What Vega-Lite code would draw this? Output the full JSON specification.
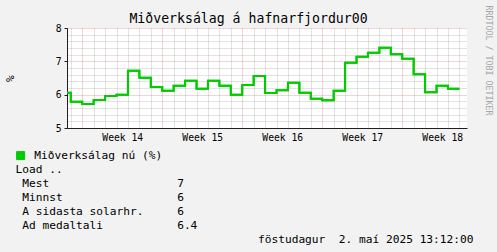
{
  "$schema": "https://vega.github.io/schema/vega-lite/v6.json",
  "width": 400,
  "height": 100,
  "autosize": "none",
  "padding": {"left": 67, "top": 28, "right": 30, "bottom": 124},
  "background": "#f2f2f2",
  "view": {"fill": "#ffffff", "stroke": null},
  "config": {"font": "DejaVu Sans Mono"},
  "title": {
    "text": "Miðverksálag á hafnarfjordur00",
    "font": "DejaVu Sans Mono",
    "fontSize": 13.2,
    "fontWeight": "normal",
    "color": "#000000",
    "anchor": "middle",
    "frame": "group",
    "dx": -18.5,
    "baseline": "alphabetic",
    "offset": -31.5
  },
  "data": {
    "values": [
      {"t": "2025-03-29T00:00:00Z", "v": 6.06},
      {"t": "2025-03-30T00:00:00Z", "v": 5.79},
      {"t": "2025-03-31T00:00:00Z", "v": 5.72},
      {"t": "2025-04-01T00:00:00Z", "v": 5.84},
      {"t": "2025-04-02T00:00:00Z", "v": 5.96},
      {"t": "2025-04-03T00:00:00Z", "v": 6.00},
      {"t": "2025-04-04T00:00:00Z", "v": 6.72},
      {"t": "2025-04-05T00:00:00Z", "v": 6.51},
      {"t": "2025-04-06T00:00:00Z", "v": 6.23},
      {"t": "2025-04-07T00:00:00Z", "v": 6.12},
      {"t": "2025-04-08T00:00:00Z", "v": 6.27},
      {"t": "2025-04-09T00:00:00Z", "v": 6.42},
      {"t": "2025-04-10T00:00:00Z", "v": 6.18},
      {"t": "2025-04-11T00:00:00Z", "v": 6.42},
      {"t": "2025-04-12T00:00:00Z", "v": 6.27},
      {"t": "2025-04-13T00:00:00Z", "v": 6.00},
      {"t": "2025-04-14T00:00:00Z", "v": 6.29},
      {"t": "2025-04-15T00:00:00Z", "v": 6.56},
      {"t": "2025-04-16T00:00:00Z", "v": 6.05},
      {"t": "2025-04-17T00:00:00Z", "v": 6.13},
      {"t": "2025-04-18T00:00:00Z", "v": 6.36},
      {"t": "2025-04-19T00:00:00Z", "v": 6.06},
      {"t": "2025-04-20T00:00:00Z", "v": 5.88},
      {"t": "2025-04-21T00:00:00Z", "v": 5.83},
      {"t": "2025-04-22T00:00:00Z", "v": 6.12},
      {"t": "2025-04-23T00:00:00Z", "v": 6.96},
      {"t": "2025-04-24T00:00:00Z", "v": 7.14},
      {"t": "2025-04-25T00:00:00Z", "v": 7.26},
      {"t": "2025-04-26T00:00:00Z", "v": 7.41},
      {"t": "2025-04-27T00:00:00Z", "v": 7.21},
      {"t": "2025-04-28T00:00:00Z", "v": 7.08},
      {"t": "2025-04-29T00:00:00Z", "v": 6.61},
      {"t": "2025-04-30T00:00:00Z", "v": 6.07},
      {"t": "2025-05-01T00:00:00Z", "v": 6.27},
      {"t": "2025-05-02T00:00:00Z", "v": 6.18},
      {"t": "2025-05-03T00:00:00Z", "v": 6.18}
    ]
  },
  "encoding": {
    "x": {
      "field": "t",
      "type": "temporal",
      "scale": {"type": "utc", "domain": [1743264000000, 1746288000000], "nice": false},
      "axis": {
        "values": [1743292800000, 1743379200000, 1743465600000, 1743552000000, 1743638400000, 1743724800000, 1743811200000, 1743897600000, 1743984000000, 1744070400000, 1744156800000, 1744243200000, 1744329600000, 1744416000000, 1744502400000, 1744588800000, 1744675200000, 1744761600000, 1744848000000, 1744934400000, 1745020800000, 1745107200000, 1745193600000, 1745280000000, 1745366400000, 1745452800000, 1745539200000, 1745625600000, 1745712000000, 1745798400000, 1745884800000, 1745971200000, 1746057600000, 1746144000000, 1746230400000, 1743681600000, 1744286400000, 1744891200000, 1745496000000, 1746100800000],
        "grid": true,
        "gridDash": [1, 1],
        "gridWidth": 1,
        "gridColor": {"condition": {"test": "utcday(datum.value) == 1", "value": "#de5050"}, "value": "#8f8f8f"},
        "gridOpacity": {"condition": {"test": "utchours(datum.value) == 12", "value": 0}, "value": 0.5},
        "ticks": false,
        "labelExpr": "utchours(datum.value) == 12 ? 'Week ' + utcFormat(datum.value, '%V') : ''",
        "labelFont": "DejaVu Sans Mono",
        "labelFontSize": 9.7,
        "labelColor": "#000000",
        "labelAngle": 0,
        "labelOverlap": false,
        "labelFlush": false,
        "labelBound": false,
        "labelPadding": 4,
        "domainColor": "#1f1f1f",
        "title": [
          "Load ..",
          "\u200b\u00a0Mest\u00a0\u00a0\u00a0\u00a0\u00a0\u00a0\u00a0\u00a0\u00a0\u00a0\u00a0\u00a0\u00a0\u00a0\u00a0\u00a0\u00a0\u00a0\u00a07",
          "\u200b\u00a0Minnst\u00a0\u00a0\u00a0\u00a0\u00a0\u00a0\u00a0\u00a0\u00a0\u00a0\u00a0\u00a0\u00a0\u00a0\u00a0\u00a0\u00a06",
          "\u200b\u00a0A sidasta solarhr.\u00a0\u00a0\u00a0\u00a0\u00a06",
          "\u200b\u00a0Ad medaltali\u00a0\u00a0\u00a0\u00a0\u00a0\u00a0\u00a0\u00a0\u00a0\u00a0\u00a06.4",
          "\u200b\u00a0\u00a0\u00a0\u00a0\u00a0\u00a0\u00a0\u00a0\u00a0\u00a0\u00a0\u00a0\u00a0\u00a0\u00a0\u00a0\u00a0\u00a0\u00a0\u00a0\u00a0\u00a0\u00a0\u00a0\u00a0\u00a0\u00a0\u00a0\u00a0\u00a0\u00a0\u00a0\u00a0\u00a0\u00a0\u00a0föstudagur\u00a0\u00a02. maí 2025 13:12:00"
        ],
        "titleFont": "DejaVu Sans Mono",
        "titleFontSize": 11.2,
        "titleFontWeight": "normal",
        "titleColor": "#000000",
        "titleAlign": "left",
        "titleAnchor": "start",
        "titleBaseline": "alphabetic",
        "titleX": -52,
        "titleY": 44,
        "titleLineHeight": 14,
        "titleLimit": 1000
      }
    }
  },
  "layer": [
    {
      "mark": {"type": "line", "interpolate": "step-after", "strokeWidth": 2, "clip": true},
      "encoding": {
        "y": {
          "field": "v",
          "type": "quantitative",
          "scale": {"domain": [5, 8], "nice": false, "zero": false},
          "axis": {
            "values": [5, 5.2, 5.4, 5.6, 5.8, 6, 6.2, 6.4, 6.6, 6.8, 7, 7.2, 7.4, 7.6, 7.8, 8],
            "grid": true,
            "gridDash": [1, 1],
            "gridWidth": 1,
            "gridColor": {"condition": {"test": "datum.value % 1 == 0", "value": "#de5050"}, "value": "#8f8f8f"},
            "gridOpacity": 0.5,
            "tickSize": 3,
            "tickColor": "#1f1f1f",
            "tickOpacity": {"condition": {"test": "datum.value % 1 == 0", "value": 1}, "value": 0},
            "labelExpr": "datum.value % 1 == 0 ? format(datum.value, 'd') : ''",
            "labelFont": "DejaVu Sans Mono",
            "labelFontSize": 9.7,
            "labelColor": "#000000",
            "labelPadding": 3,
            "labelOverlap": false,
            "labelFlush": false,
            "labelBound": false,
            "domainColor": "#1f1f1f",
            "title": "%",
            "titleFont": "DejaVu Sans Mono",
            "titleFontSize": 11.2,
            "titleFontWeight": "normal",
            "titleColor": "#000000",
            "titleAngle": -90,
            "titleAlign": "center",
            "titleBaseline": "middle",
            "titleX": -57,
            "titleY": 50
          }
        },
        "color": {
          "datum": "Miðverksálag nú (%)",
          "scale": {"range": ["#00cc00"]},
          "legend": {
            "orient": "none",
            "legendX": -52,
            "legendY": 122,
            "title": null,
            "symbolType": "square",
            "symbolSize": 64,
            "labelFont": "DejaVu Sans Mono",
            "labelFontSize": 11.2,
            "labelColor": "#000000",
            "labelOffset": 8,
            "padding": 0,
            "encode": {
              "symbols": {
                "update": {
                  "fill": {"value": "#00cc00"},
                  "stroke": {"value": "#000000"},
                  "strokeWidth": {"value": 1},
                  "opacity": {"value": 1}
                }
              }
            }
          }
        }
      }
    },
    {
      "mark": {"type": "line", "interpolate": "step-after", "strokeWidth": 2, "clip": true, "color": "#00cc00"},
      "encoding": {
        "y": {
          "field": "v",
          "type": "quantitative",
          "axis": {
            "orient": "right",
            "grid": false,
            "ticks": false,
            "labels": false,
            "domain": false,
            "title": "RRDTOOL / TOBI OETIKER",
            "titleFont": "DejaVu Sans Mono",
            "titleFontSize": 8.3,
            "titleFontWeight": "normal",
            "titleColor": "#a6a6a6",
            "titleAngle": 90,
            "titleAlign": "center",
            "titleBaseline": "middle",
            "titleX": 20.5,
            "titleY": 32
          }
        }
      }
    }
  ],
  "resolve": {"axis": {"y": "independent"}}
}
